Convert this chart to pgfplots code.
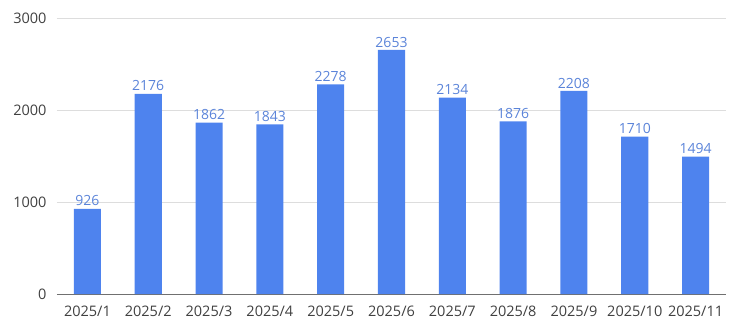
\documentclass[border=0pt]{standalone}
\usepackage{pgfplots}
\pgfplotsset{compat=1.18}
\usepackage{fontspec}
\setmainfont{Open Sans}
\definecolor{barblue}{HTML}{4E83EE}
\definecolor{lblblue}{HTML}{5B84D9}
\definecolor{ticktxt}{HTML}{404040}
\definecolor{gridgray}{HTML}{DDDDDD}
\definecolor{axisgray}{HTML}{707070}
\begin{document}
\begin{tikzpicture}
\path[use as bounding box] (-57pt,-33pt) rectangle (693pt,294pt);
\begin{axis}[
  at={(0,0)}, anchor=south west,
  scale only axis, width=669pt, height=276pt,
  xmin=-0.5, xmax=10.5, ymin=0, ymax=3000,
  xtick=data,
  xticklabels={2025/1,2025/2,2025/3,2025/4,2025/5,2025/6,2025/7,2025/8,2025/9,2025/10,2025/11},
  ytick={0,1000,2000,3000},
  axis x line*=bottom, axis y line*=left,
  x axis line style={axisgray, line width=1pt, -},
  y axis line style={draw=none},
  ymajorgrids, grid style={gridgray, line width=0.8pt},
  major tick length=0pt,
  tick label style={font=\fontsize{14.5}{16}\selectfont, text=ticktxt},
  yticklabel style={xshift=-7pt},
  xticklabel style={yshift=-8pt},
  /pgf/number format/assume math mode=true,
  /pgf/number format/1000 sep={},
  clip=false,
  ybar, bar width=0.445,
  nodes near coords,
  every node near coord/.append style={font=\fontsize{14}{16}\selectfont, text=lblblue, inner sep=2.5pt, anchor=south},
]
\addplot[fill=barblue, draw=none] coordinates {
  (0,926) (1,2176) (2,1862) (3,1843) (4,2278) (5,2653)
  (6,2134) (7,1876) (8,2208) (9,1710) (10,1494)
};
\end{axis}
\end{tikzpicture}
\end{document}
